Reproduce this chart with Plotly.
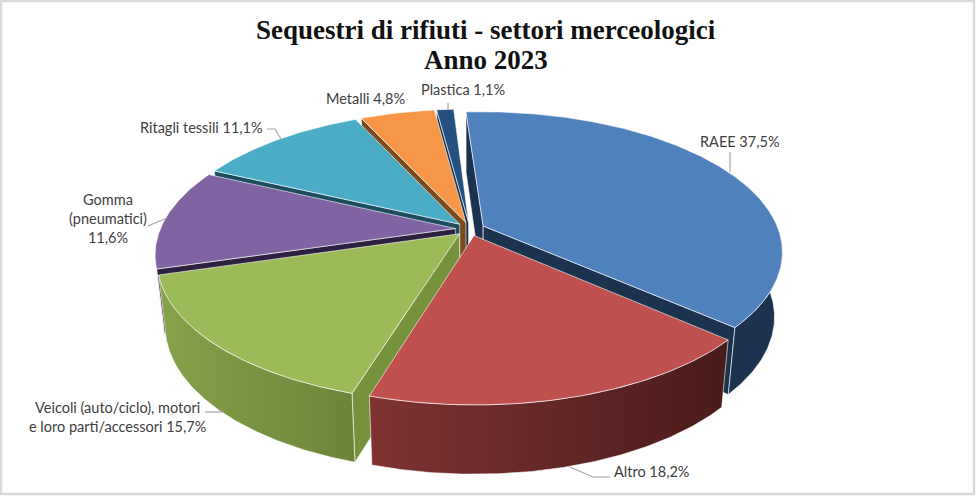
import numpy as np
import plotly.graph_objects as go

# ---- data ----
categories = ["RAEE", "Altro", "Veicoli (auto/ciclo), motori<br>e loro parti/accessori",
              "Gomma<br>(pneumatici)<br>", "Ritagli tessili", "Metalli", "Plastica"]
values = [37.5, 18.2, 15.7, 11.6, 11.1, 4.8, 1.1]
title_lines = ["Sequestri di rifiuti - settori merceologici", "Anno 2023"]

# ---- styles ----
top_colors = ["#4F81BD", "#C0504D", "#9BBB59", "#8064A2", "#4BACC6", "#F79646", "#24507F"]
side_colors = ["#1C3350", "#5A2220", "#76923C", "#2E2140", "#1B4D5C", "#7B4A1C", "#16304F"]
wall_left = ["#1C3350", "#7F3331", "#86A24B", "#4B3A61", "#2B6A7C", "#94581F", "#16304F"]
wall_right = ["#1C3350", "#481C1A", "#6C8439", "#4B3A61", "#2B6A7C", "#94581F", "#16304F"]
label_xy = [(740, 141), (651, 471), (117, 417), (108, 218), (201, 127), (365, 98), (463, 89)]
title_y = [30, 60]
leaders = [[(730, 152), (730, 172)], [(610, 477), (593, 477), (570, 467)],
           [(205, 412), (224, 412)], [(148, 226), (167, 218)],
           [(267, 129), (275, 129), (281, 139)], [], [(448, 103), (448, 110)]]

W, H = 977, 497
X0, Y0, A, B, K = 470, 229, 295, 136, 0.181
EXPLODE, START = 0.05, -3.5
SHRINK, DEPTH, DEPTH_SLOPE = 0.975, 67, 0.03
EDGE = "rgba(255,255,255,0.75)"


def project(x, y, lower=False):
    d = 1 + K * y
    sx = X0 + A * x / d
    sy = Y0 - B * y / d
    if lower:
        sx = X0 + (sx - X0) * SHRINK
        sy = sy + DEPTH + DEPTH_SLOPE * (sy - 328)
    return sx, sy


def rim(t0, t1, ox, oy, lower=False):
    t = np.radians(np.linspace(t0, t1, max(int(abs(t1 - t0)) * 2, 2)))
    return project(ox + np.sin(t), oy + np.cos(t), lower)


def cross(ax, ay, bx, by, cx, cy):
    return (bx - ax) * (cy - ay) - (by - ay) * (cx - ax)


fig = go.Figure()


def poly(xs, ys, color=None, grad=None, line=EDGE, lw=0.8):
    kw = dict(x=list(xs), y=list(ys), mode="lines", fill="toself",
              line=dict(color=line, width=lw), hoverinfo="skip", showlegend=False)
    if grad:
        kw["fillgradient"] = dict(type="horizontal",
                                  colorscale=[[0, grad[0]], [1, grad[1]]])
    else:
        kw["fillcolor"] = color
    fig.add_trace(go.Scatter(**kw))


total = sum(values)
edges = START + np.concatenate([[0], np.cumsum(values)]) * 360 / total
mids = (edges[:-1] + edges[1:]) / 2
order = sorted(range(len(values)), key=lambda i: np.cos(np.radians(mids[i])), reverse=True)

for i in order:
    t0, t1, m = edges[i], edges[i + 1], np.radians(mids[i])
    ox, oy = EXPLODE * np.sin(m), EXPLODE * np.cos(m)
    ax, ay = project(ox, oy)
    bx, by = project(ox, oy, True)
    mx, my = project(ox + np.sin(m), oy + np.cos(m))
    # radial faces: only those that turn towards the viewer
    for t in (t0, t1):
        r = np.radians(t)
        ex, ey = project(ox + np.sin(r), oy + np.cos(r))
        fx, fy = project(ox + np.sin(r), oy + np.cos(r), True)
        if cross(ax, ay, ex, ey, fx, fy) * cross(ax, ay, ex, ey, mx, my) < 0:
            poly([ax, ex, fx, bx, ax], [ay, ey, fy, by, ay], side_colors[i])
    # outer wall, front part of the rim only
    a0, a1 = max(t0, 70), min(t1, 255)
    if a1 > a0:
        ux, uy = rim(a0, a1, ox, oy)
        lx, ly = rim(a0, a1, ox, oy, True)
        poly(np.r_[ux, lx[::-1], ux[0]], np.r_[uy, ly[::-1], uy[0]],
             grad=(wall_left[i], wall_right[i]))
    # top face
    ux, uy = rim(t0, t1, ox, oy)
    poly(np.r_[ax, ux, ax], np.r_[ay, uy, ay], top_colors[i])

for pts in leaders:
    if pts:
        fig.add_trace(go.Scatter(x=[p[0] for p in pts], y=[p[1] for p in pts], mode="lines",
                                 line=dict(color="#A6A6A6", width=1.2),
                                 hoverinfo="skip", showlegend=False))

for c, v, (lx, ly) in zip(categories, values, label_xy):
    pct = f"{v:.1f}".replace(".", ",") + "%"
    sep = "" if c.endswith("<br>") else " "
    fig.add_annotation(x=lx, y=ly, text=c + sep + pct, showarrow=False, xanchor="center",
                       yanchor="middle", font=dict(family="Lato", size=14.5, color="#404040"),
                       align="center")

for t, ty in zip(title_lines, title_y):
    fig.add_annotation(x=486, y=ty, text=f"<b>{t}</b>", showarrow=False, xanchor="center",
                       yanchor="middle", font=dict(family="Liberation Serif", size=27, color="#111111"))

fig.update_layout(
    width=W, height=H, margin=dict(l=0, r=0, t=0, b=0), autosize=False,
    paper_bgcolor="white", plot_bgcolor="white",
    xaxis=dict(range=[0, W], visible=False, fixedrange=True),
    yaxis=dict(range=[H, 0], visible=False, fixedrange=True),
    shapes=[dict(type="rect", xref="x", yref="y", x0=1, y0=1, x1=974, y1=494,
                 line=dict(color="#D9D9D9", width=2.5), fillcolor="rgba(0,0,0,0)", layer="below")],
)
fig.write_html("out.html", config={"displayModeBar": False},
               post_script="document.body.style.margin='0';document.documentElement.style.overflow='hidden';")
